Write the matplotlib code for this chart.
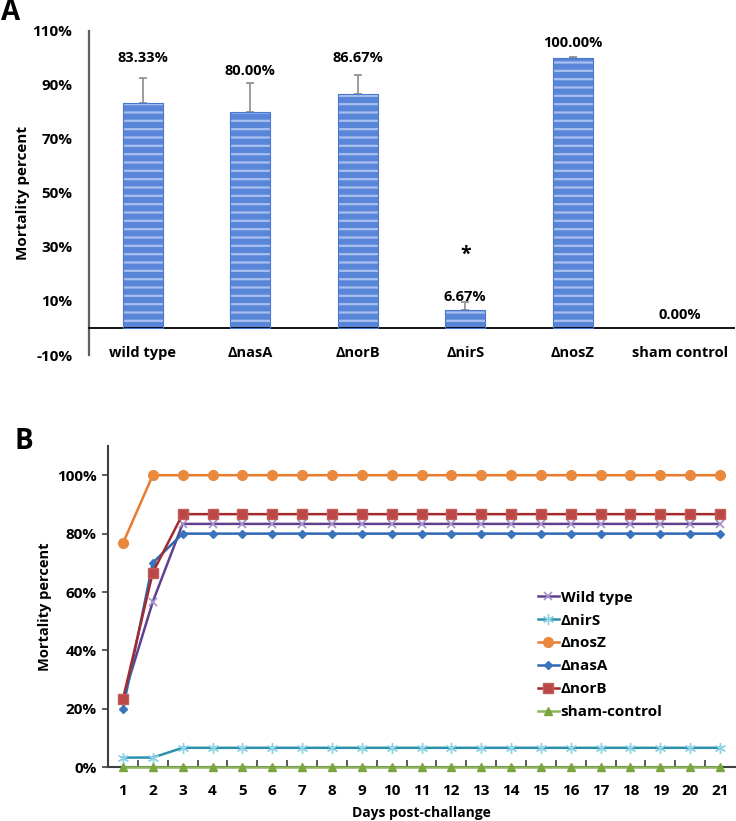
import matplotlib
matplotlib.use("Agg")
import matplotlib.pyplot as plt
from matplotlib.ticker import PercentFormatter
import numpy as np

plt.rcParams["font.family"] = ["Open Sans", "DejaVu Sans"]
plt.rcParams["font.weight"] = "bold"
plt.rcParams["axes.unicode_minus"] = False

# Panel A: mortality per strain
strains = ["wild type", "ΔnasA", "ΔnorB", "ΔnirS", "ΔnosZ", "sham control"]
mortality = [83.33, 80.00, 86.67, 6.67, 100.00, 0.00]
mortality_err = [9.3, 10.6, 7.0, 3.0, 0.2, 0.0]
label_y = [100.0, 95.2, 100.0, 11.5, 105.5, 4.8]
star_strain = "ΔnirS"
star_y = 27.0

# Panel B: cumulative mortality by day
days = list(range(1, 22))
wild_type = [23.33, 56.67] + [83.33] * 19
nirS = [3.33, 3.33] + [6.67] * 19
nosZ = [76.67] + [100.0] * 20
nasA = [20.0, 70.0] + [80.0] * 19
norB = [23.33, 66.67] + [86.67] * 19
sham = [0.0] * 21

W, H = 736, 821
fig = plt.figure(figsize=(W / 100, H / 100), dpi=100)

# ---- A ----
axA = fig.add_axes([89 / W, 1 - 355 / H, (734 - 89) / W, (355 - 31) / H])
x = np.arange(len(strains))
vals = np.array(mortality)
shown = vals > 0
axA.bar(x[shown], vals[shown], width=0.375, color="#5a86d9", edgecolor="none", zorder=2)
plt.rcParams["hatch.linewidth"] = 1.6
plt.rcParams["hatch.color"] = "#a9c0ef"
axA.bar(x[shown], vals[shown], width=0.375, fill=False, edgecolor="#a9c0ef", hatch="--", linewidth=0, zorder=3)
axA.bar(x[shown], vals[shown], width=0.375, fill=False, edgecolor="#4a76cc", linewidth=0.8, zorder=4)
for xi, m, e in zip(x, mortality, mortality_err):
    if m > 0:
        axA.errorbar(xi, m, yerr=[[0], [e]], fmt="none", ecolor="#8c8c8c", elinewidth=1.2,
                     capsize=3, capthick=1.2, zorder=1)
for xi, m, ly in zip(x, mortality, label_y):
    axA.text(xi, ly, f"{m:.2f}%", ha="center", va="center", fontsize=10.5, fontweight="bold")
axA.text(strains.index(star_strain), star_y, "*", ha="center", va="center", fontsize=14, fontweight="bold")

axA.set_xlim(-0.5, len(strains) - 0.5)
axA.set_ylim(-10, 110)
axA.set_yticks([-10, 10, 30, 50, 70, 90, 110])
axA.yaxis.set_major_formatter(PercentFormatter(decimals=0))
axA.set_xticks(x)
axA.set_xticklabels(strains)
axA.spines[["top", "right"]].set_visible(False)
axA.spines["left"].set_color("#606060")
axA.spines["left"].set_linewidth(1.6)
axA.spines["bottom"].set_position(("data", 0))
axA.spines["bottom"].set_linewidth(1.3)
axA.tick_params(axis="y", length=0, pad=12, labelsize=11)
axA.tick_params(axis="x", length=0, pad=13, labelsize=10.5)
for t in axA.get_xticklabels() + axA.get_yticklabels():
    t.set_fontweight("bold")
axA.set_ylabel("Mortality percent", fontsize=11, fontweight="bold", labelpad=2)
fig.text(11 / W, 1 - 13 / H, "A", fontsize=20, fontweight="bold", ha="center", va="center")

# ---- B ----
axB = fig.add_axes([108 / W, 1 - 767.3 / H, (735 - 108) / W, (767.3 - 446) / H])
series = [
    ("Wild type", wild_type, "#61418f", dict(marker="x", ms=6, mec="#a592c8", mew=1.2)),
    ("ΔnirS", nirS, "#2b90ae", dict(marker=(6, 2, 0), ms=8, mec="#8fd3e6", mew=1.0)),
    ("ΔnosZ", nosZ, "#e87b2c", dict(marker="o", ms=7, mfc="#e8893e", mec="#e8893e")),
    ("ΔnasA", nasA, "#2e68b2", dict(marker="D", ms=4.5, mfc="#3a74bd", mec="#3a74bd")),
    ("ΔnorB", norB, "#a42a2c", dict(marker="s", ms=7, mfc="#bb4846", mec="#c45c5a")),
    ("sham-control", sham, "#8db65a", dict(marker="^", ms=6, mfc="#79a63e", mec="#79a63e")),
]
for name, vals_b, col, mk in series:
    axB.plot(days, vals_b, color=col, lw=1.8, label=name, clip_on=False, zorder=3, **mk)

axB.set_xlim(0.5, 21.5)
axB.set_ylim(0, 110)
axB.set_yticks([0, 20, 40, 60, 80, 100])
axB.yaxis.set_major_formatter(PercentFormatter(decimals=0))
axB.set_xticks(days)
axB.set_xticks(np.arange(1.5, 21.5, 1), minor=True)
axB.spines[["top", "right"]].set_visible(False)
for s in ["left", "bottom"]:
    axB.spines[s].set_color("#404040")
    axB.spines[s].set_linewidth(1.5)
axB.tick_params(axis="y", length=4, width=1.2, color="#404040", pad=4, labelsize=11)
axB.tick_params(axis="x", which="major", length=0, pad=12, labelsize=11)
axB.tick_params(axis="x", which="minor", length=5, width=1.2, color="#404040", direction="in")
for t in axB.get_xticklabels() + axB.get_yticklabels():
    t.set_fontweight("bold")
axB.set_ylabel("Mortality percent", fontsize=10.5, fontweight="bold", labelpad=4)
axB.set_xlabel("Days post-challange", fontsize=10, fontweight="bold", labelpad=6)
axB.legend(loc="upper left", bbox_to_anchor=((530 - 108) / (735 - 108), (767.3 - 583) / (767.3 - 446)),
           frameon=False, handlelength=1.4, handletextpad=0.1,
           labelspacing=0.58, borderpad=0, prop={"weight": "bold", "size": 11})
fig.text(24 / W, 1 - 441 / H, "B", fontsize=20, fontweight="bold", ha="center", va="center")

fig.savefig("out.png", dpi=100)
